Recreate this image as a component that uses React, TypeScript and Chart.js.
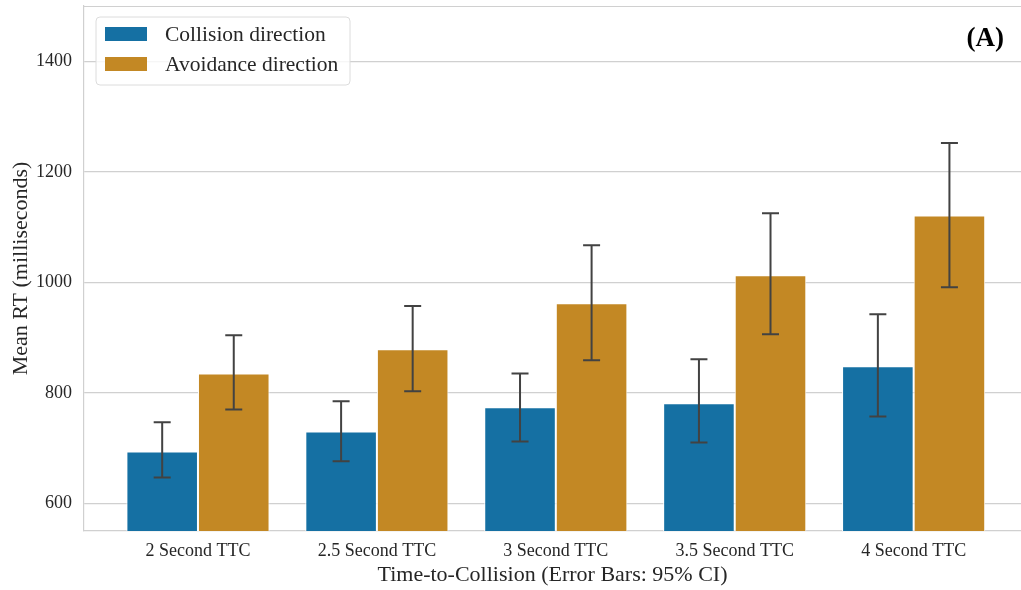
import React, { useEffect, useRef } from "react";
import { Chart, registerables } from "chart.js";

Chart.register(...registerables);

const categories = ["2 Second TTC", "2.5 Second TTC", "3 Second TTC", "3.5 Second TTC", "4 Second TTC"];
const collisionMean = [694, 730, 774, 781, 848];
const collisionLow = [647, 676, 712, 710, 757];
const collisionHigh = [747, 785, 835, 861, 942];
const avoidanceMean = [835, 879, 962, 1013, 1121];
const avoidanceLow = [770, 803, 859, 906, 991];
const avoidanceHigh = [904, 957, 1067, 1125, 1252];
const yTicks = [600, 800, 1000, 1200, 1400];

const FONT = "'Liberation Serif', 'Times New Roman', serif";
const TEXT = "#262626";
const GRID = "#d0d0d0";
const BLUE = "#1570a3";
const ORANGE = "#c38824";

export default function App() {
  const ref = useRef<HTMLCanvasElement | null>(null);

  useEffect(() => {
    document.body.style.margin = "0";
    const canvas = ref.current;
    if (!canvas) return;

    const lows = [collisionLow, avoidanceLow];
    const highs = [collisionHigh, avoidanceHigh];

    const errorBars = {
      id: "errorBars",
      afterDatasetsDraw(chart: any) {
        const ctx = chart.ctx;
        const y = chart.scales.y;
        ctx.save();
        ctx.strokeStyle = "#424242";
        ctx.lineWidth = 2;
        chart.data.datasets.forEach((_ds: any, d: number) => {
          const meta = chart.getDatasetMeta(d);
          meta.data.forEach((bar: any, i: number) => {
            const x = bar.x;
            const yl = y.getPixelForValue(lows[d][i]);
            const yh = y.getPixelForValue(highs[d][i]);
            const cap = 8.5;
            ctx.beginPath();
            ctx.moveTo(x, yl);
            ctx.lineTo(x, yh);
            ctx.moveTo(x - cap, yl);
            ctx.lineTo(x + cap, yl);
            ctx.moveTo(x - cap, yh);
            ctx.lineTo(x + cap, yh);
            ctx.stroke();
          });
        });
        ctx.restore();
      },
    };

    const frame = {
      id: "frame",
      afterDraw(chart: any) {
        const ctx = chart.ctx;
        const a = chart.chartArea;
        ctx.save();
        ctx.strokeStyle = GRID;
        ctx.lineWidth = 1.2;
        ctx.beginPath();
        ctx.moveTo(a.left, a.top + 0.5);
        ctx.lineTo(a.right, a.top + 0.5);
        ctx.stroke();

        const bx = 96, by = 17, bw = 254, bh = 68, r = 4;
        ctx.fillStyle = "rgba(255,255,255,0.8)";
        ctx.strokeStyle = "#dcdcdc";
        ctx.lineWidth = 1;
        ctx.beginPath();
        ctx.moveTo(bx + r, by);
        ctx.lineTo(bx + bw - r, by);
        ctx.quadraticCurveTo(bx + bw, by, bx + bw, by + r);
        ctx.lineTo(bx + bw, by + bh - r);
        ctx.quadraticCurveTo(bx + bw, by + bh, bx + bw - r, by + bh);
        ctx.lineTo(bx + r, by + bh);
        ctx.quadraticCurveTo(bx, by + bh, bx, by + bh - r);
        ctx.lineTo(bx, by + r);
        ctx.quadraticCurveTo(bx, by, bx + r, by);
        ctx.closePath();
        ctx.fill();
        ctx.stroke();
        ctx.font = `21.5px ${FONT}`;
        ctx.textBaseline = "middle";
        ctx.textAlign = "left";
        chart.data.datasets.forEach((ds: any, d: number) => {
          const cy = 34 + d * 30;
          ctx.fillStyle = ds.backgroundColor;
          ctx.fillRect(105, cy - 7, 42, 14);
          ctx.fillStyle = TEXT;
          ctx.fillText(ds.label, 165, cy + 1);
        });

        ctx.font = `bold 27px ${FONT}`;
        ctx.fillStyle = "#000";
        ctx.textAlign = "right";
        ctx.fillText("(A)", 1004, 39);
        ctx.restore();
      },
    };

    const chart = new Chart(canvas, {
      type: "bar",
      data: {
        datasets: [
          {
            label: "Collision direction",
            data: collisionMean.map((v, i) => ({ x: i, y: v })),
            backgroundColor: BLUE,
            borderColor: "#ffffff",
            borderWidth: 1,
            categoryPercentage: 0.8,
            barPercentage: 1.0,
          },
          {
            label: "Avoidance direction",
            data: avoidanceMean.map((v, i) => ({ x: i, y: v })),
            backgroundColor: ORANGE,
            borderColor: "#ffffff",
            borderWidth: 1,
            categoryPercentage: 0.8,
            barPercentage: 1.0,
          },
        ],
      },
      options: {
        responsive: false,
        animation: false,
        layout: { padding: { top: 6, right: 0, left: 0, bottom: 0 } },
        plugins: {
          legend: { display: false },
          tooltip: { enabled: false },
        },
        scales: {
          x: {
            type: "linear",
            offset: false,
            min: -0.637,
            max: 4.6,
            afterBuildTicks: (s: any) => {
              s.ticks = categories.map((_c, i) => ({ value: i }));
            },
            afterFit: (s: any) => {
              s.height = 59;
              s.paddingLeft = 0;
              s.paddingRight = 0;
            },
            grid: { display: false, drawTicks: false },
            border: { display: true, color: GRID, width: 1.2 },
            ticks: {
              padding: 9,
              color: TEXT,
              font: { family: FONT, size: 18 },
              callback: (v: any) => categories[v] ?? "",
              maxRotation: 0,
              autoSkip: false,
            },
            title: {
              display: true,
              text: "Time-to-Collision (Error Bars: 95% CI)",
              color: TEXT,
              font: { family: FONT, size: 22 },
              padding: { top: 0, bottom: 2 },
            },
          },
          y: {
            min: 550,
            max: 1500,
            afterBuildTicks: (s: any) => {
              s.ticks = yTicks.map((v) => ({ value: v }));
            },
            afterFit: (s: any) => {
              s.width = 84;
              s.paddingTop = 0;
              s.paddingBottom = 0;
            },
            grid: { color: GRID, lineWidth: 1.2, drawTicks: false },
            border: { display: true, color: GRID, width: 1.2 },
            ticks: {
              padding: 12,
              color: TEXT,
              font: { family: FONT, size: 18 },
              callback: (v: any) => String(v),
            },
            title: {
              display: true,
              text: "Mean RT (milliseconds)",
              color: TEXT,
              font: { family: FONT, size: 22 },
              padding: { top: 8, bottom: 0 },
            },
          },
        },
      },
      plugins: [errorBars, frame],
    });

    return () => chart.destroy();
  }, []);

  return <canvas ref={ref} width={1021} height={590} style={{ display: "block" }} />;
}
